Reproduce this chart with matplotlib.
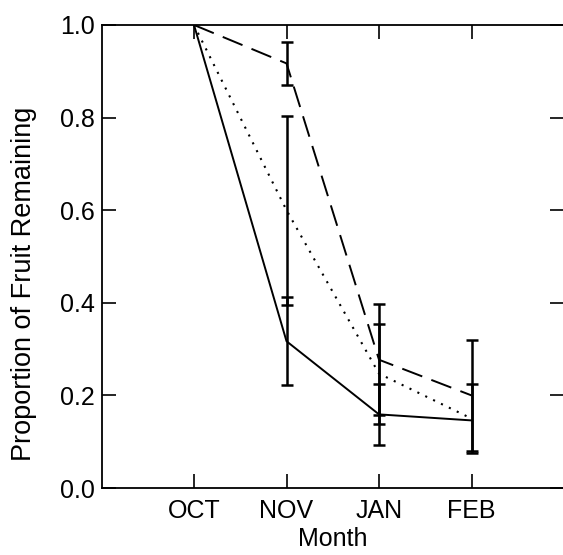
import matplotlib
matplotlib.use("Agg")
import matplotlib.pyplot as plt

months = ["OCT", "NOV", "JAN", "FEB"]
x_pos = [1, 2, 3, 4]

solid_vals = [1.0, 0.317, 0.159, 0.146]
solid_err = [0.0, 0.095, 0.066, 0.0]

dashed_vals = [1.0, 0.917, 0.277, 0.200]
dashed_err = [0.0, 0.047, 0.12, 0.12]

dotted_vals = [1.0, 0.60, 0.247, 0.150]
dotted_err = [0.0, 0.204, 0.108, 0.075]

yticks = [0.0, 0.2, 0.4, 0.6, 0.8, 1.0]

plt.rcParams['font.family'] = ['Liberation Sans', 'DejaVu Sans']

fig = plt.figure(figsize=(5.63, 5.55), dpi=100)
ax = fig.add_axes([0.1803, 0.1207, 0.8215, 0.8343])

ax.plot(x_pos, solid_vals, color='black', lw=1.4, ls='-')
ax.plot(x_pos, dashed_vals, color='black', lw=1.4, ls=(0, (11, 5)))
ax.plot(x_pos, dotted_vals, color='black', lw=1.5, ls=(0, (1, 3.2)))

for vals, errs in [(solid_vals, solid_err), (dashed_vals, dashed_err), (dotted_vals, dotted_err)]:
    xs = [x for x, e in zip(x_pos, errs) if e > 0]
    ys = [v for v, e in zip(vals, errs) if e > 0]
    es = [e for e in errs if e > 0]
    ax.errorbar(xs, ys, yerr=es, fmt='none', ecolor='black', elinewidth=1.8,
                capsize=4.6, capthick=1.8)

ax.set_xlim(0, 5)
ax.set_ylim(0, 1.0)
ax.set_xticks(x_pos)
ax.set_xticklabels(months)
ax.set_yticks(yticks)
ax.set_yticklabels([f"{v:.1f}" for v in yticks])
ax.tick_params(direction='in', length=10, width=1.2, top=True, right=True,
               labelsize=18, colors='black')
ax.tick_params(axis='x', pad=8)
ax.tick_params(axis='y', pad=5)
for s in ax.spines.values():
    s.set_linewidth(1.3)

ax.set_xlabel("Month", fontsize=18, labelpad=3)
ax.set_ylabel("Proportion of Fruit Remaining", fontsize=19.5, labelpad=10)
ax.yaxis.set_label_coords(-0.14, 0.44)

fig.savefig("out.png", dpi=100)
